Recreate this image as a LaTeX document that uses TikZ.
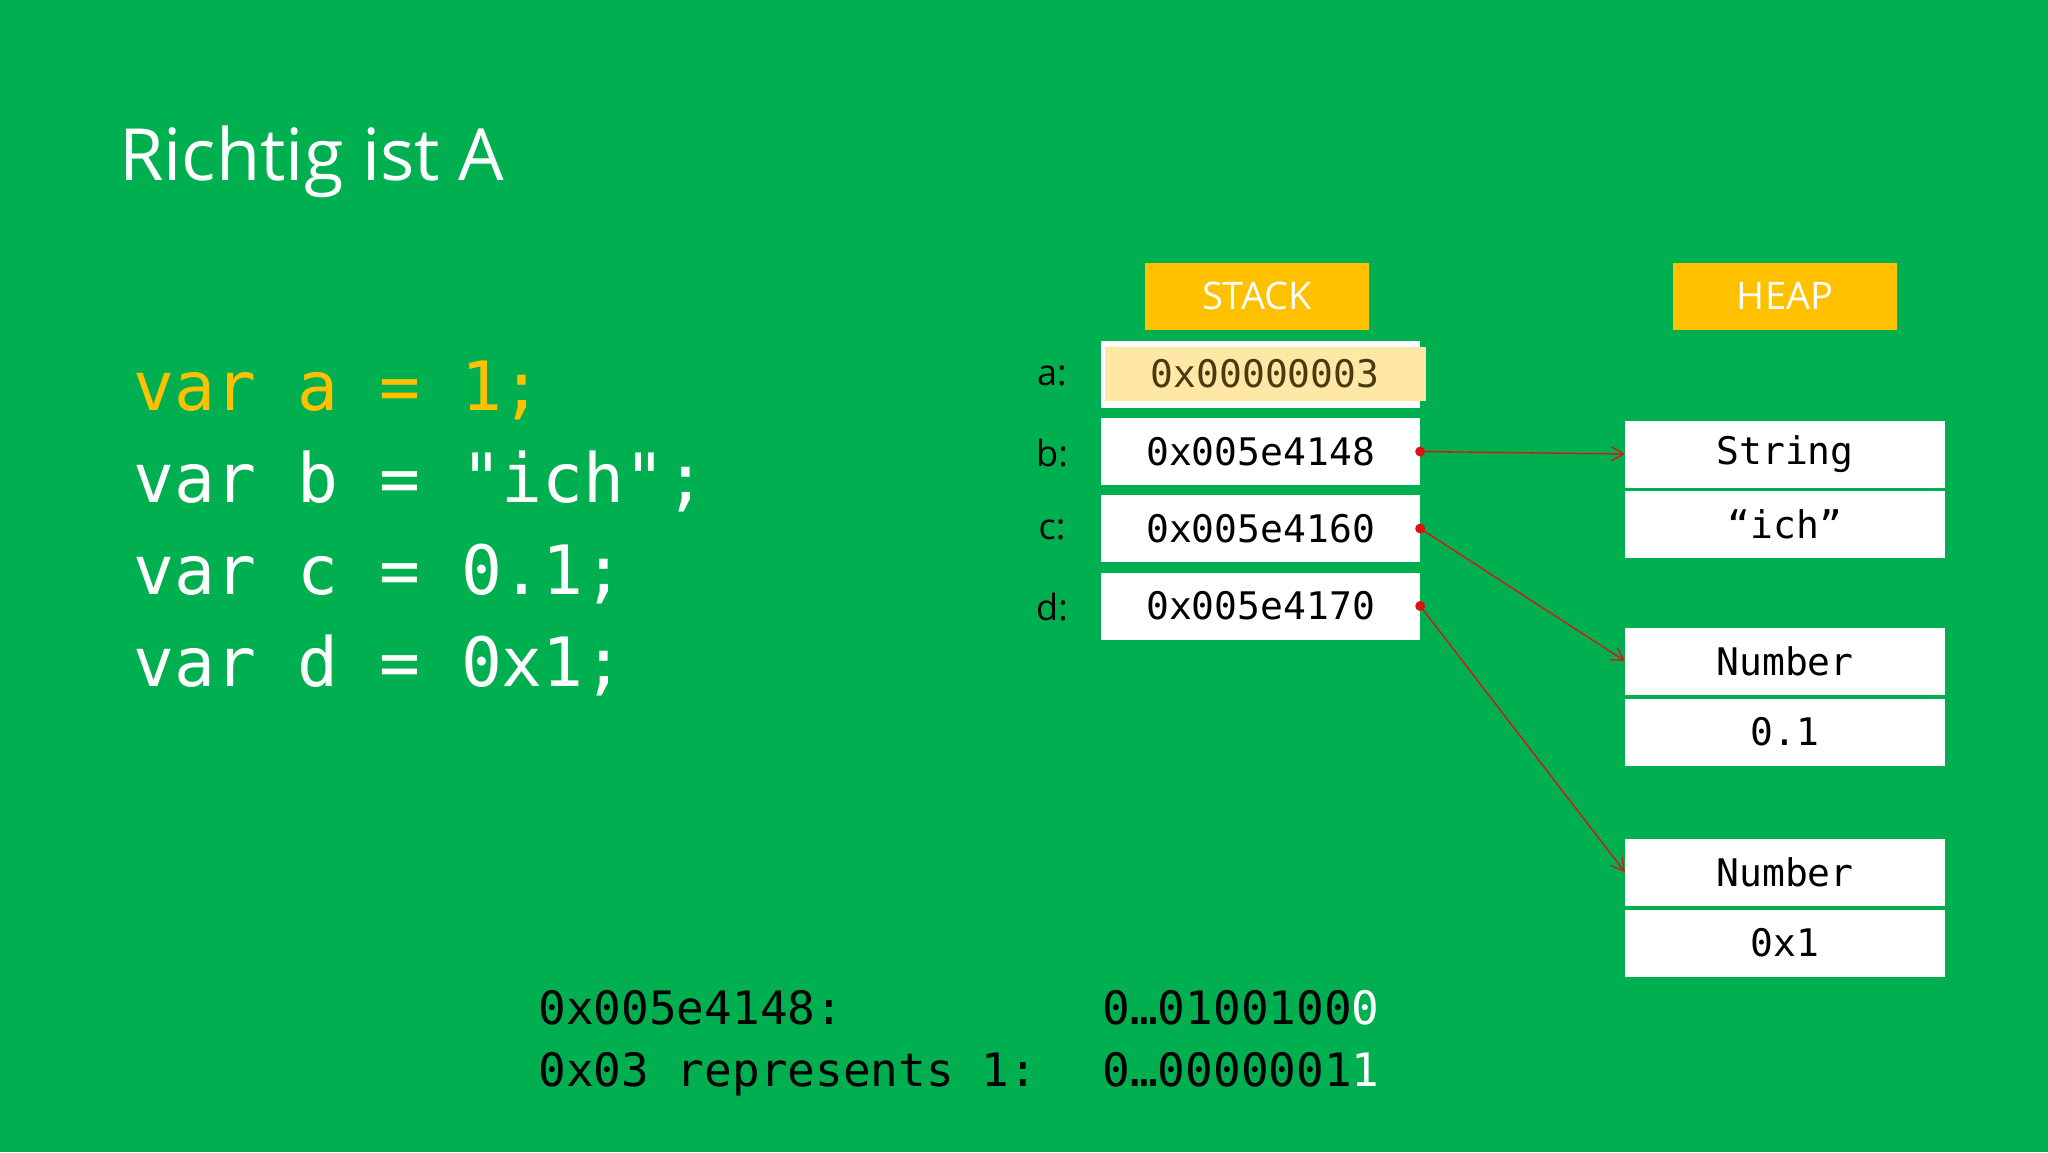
\documentclass[tikz,border=0pt]{standalone}
\usepackage{fontspec}
\setmainfont{Open Sans}
\setmonofont{DejaVu Sans Mono}
\usetikzlibrary{arrows.meta}
\definecolor{bg}{HTML}{00B050}
\definecolor{hdr}{HTML}{FFC000}
\definecolor{hl}{HTML}{FFE8A6}
\definecolor{dk}{HTML}{4A3A10}
\definecolor{ar}{HTML}{E01010}
\tikzset{
  hdrbox/.style={fill=hdr,text=white,minimum width=224pt,minimum height=67pt,font=\fontsize{38}{40}\selectfont},
  cell/.style={fill=white,minimum width=319pt,minimum height=67pt,font=\ttfamily\fontsize{38}{40}\selectfont},
  hcell/.style={fill=white,minimum width=320pt,minimum height=67pt,font=\ttfamily\fontsize{38}{40}\selectfont},
  lbl/.style={anchor=center,font=\fontsize{36}{38}\selectfont},
  code/.style={anchor=base west,text=white,font=\ttfamily\fontsize{68}{70}\selectfont},
  btm/.style={anchor=base west,font=\ttfamily\fontsize{46}{48}\selectfont},
  ptr/.style={draw=ar,line width=1.3pt,-{Straight Barb[length=12pt,width=14pt]}},
  dot/.style={circle,fill=ar,inner sep=0pt,minimum size=10pt}
}
\begin{document}
\begin{tikzpicture}[x=1pt,y=-1pt]
\fill[bg] (0,0) rectangle (2048,1152);
\useasboundingbox (0,0) rectangle (2048,1152);
\node[anchor=base west,text=white,inner sep=0pt,font=\fontsize{72}{74}\selectfont] (title) at (119,180) {\addfontfeatures{FakeBold=-0.3}Richtig ist \normalfont\fontsize{72}{74}\selectfont A};
\node[code,text=hdr] (l1) at (130,410) {var a = 1;};
\node[code] (l2) at (130,502) {var b = "ich";};
\node[code] (l3) at (130,594) {var c = 0.1;};
\node[code] (l4) at (130,686) {var d = 0x1;};
\node[hdrbox] (stack) at (1257,296) {STACK};
\node[hdrbox] (heap) at (1785,296) {HEAP};
\node[cell] (ca) at (1260.5,374) {};
\node[fill=hl,minimum width=321pt,minimum height=54pt,text=dk,font=\ttfamily\fontsize{38}{40}\selectfont] (cah) at (1265,374) {0x00000003};
\node[cell] (cb) at (1260.5,451.5) {0x005e4148};
\node[cell] (cc) at (1260.5,528.5) {0x005e4160};
\node[cell] (cd) at (1260.5,606) {0x005e4170};
\node[lbl] (la) at (1052,376) {a:};
\node[lbl] (lb) at (1052,453) {b:};
\node[lbl] (lc) at (1052,530) {c:};
\node[lbl] (ld) at (1052,607) {d:};
\node[hcell] (h1) at (1785,454) {String};
\node[hcell] (h2) at (1785,524.5) {“ich”};
\node[hcell] (h3) at (1785,661) {Number};
\node[hcell] (h4) at (1785,732) {0.1};
\node[hcell] (h5) at (1785,872) {Number};
\node[hcell] (h6) at (1785,943) {0x1};
\node[dot] (db) at (cb.east) {};
\node[dot] (dc) at (cc.east) {};
\node[dot] (dd) at (cd.east) {};
\draw[ptr] (db.center) -- (h1.west);
\draw[ptr] (dc.center) -- (h3.west);
\draw[ptr] (dd.center) -- (h5.west);
\node[btm] (b1) at (535,1024) {0x005e4148:};
\node[btm] (b2) at (535,1086) {0x03 represents 1:};
\node[btm] (b3) at (1099,1024) {0…0100100\textcolor{white}{0}};
\node[btm] (b4) at (1099,1086) {0…0000001\textcolor{white}{1}};
\end{tikzpicture}
\end{document}
